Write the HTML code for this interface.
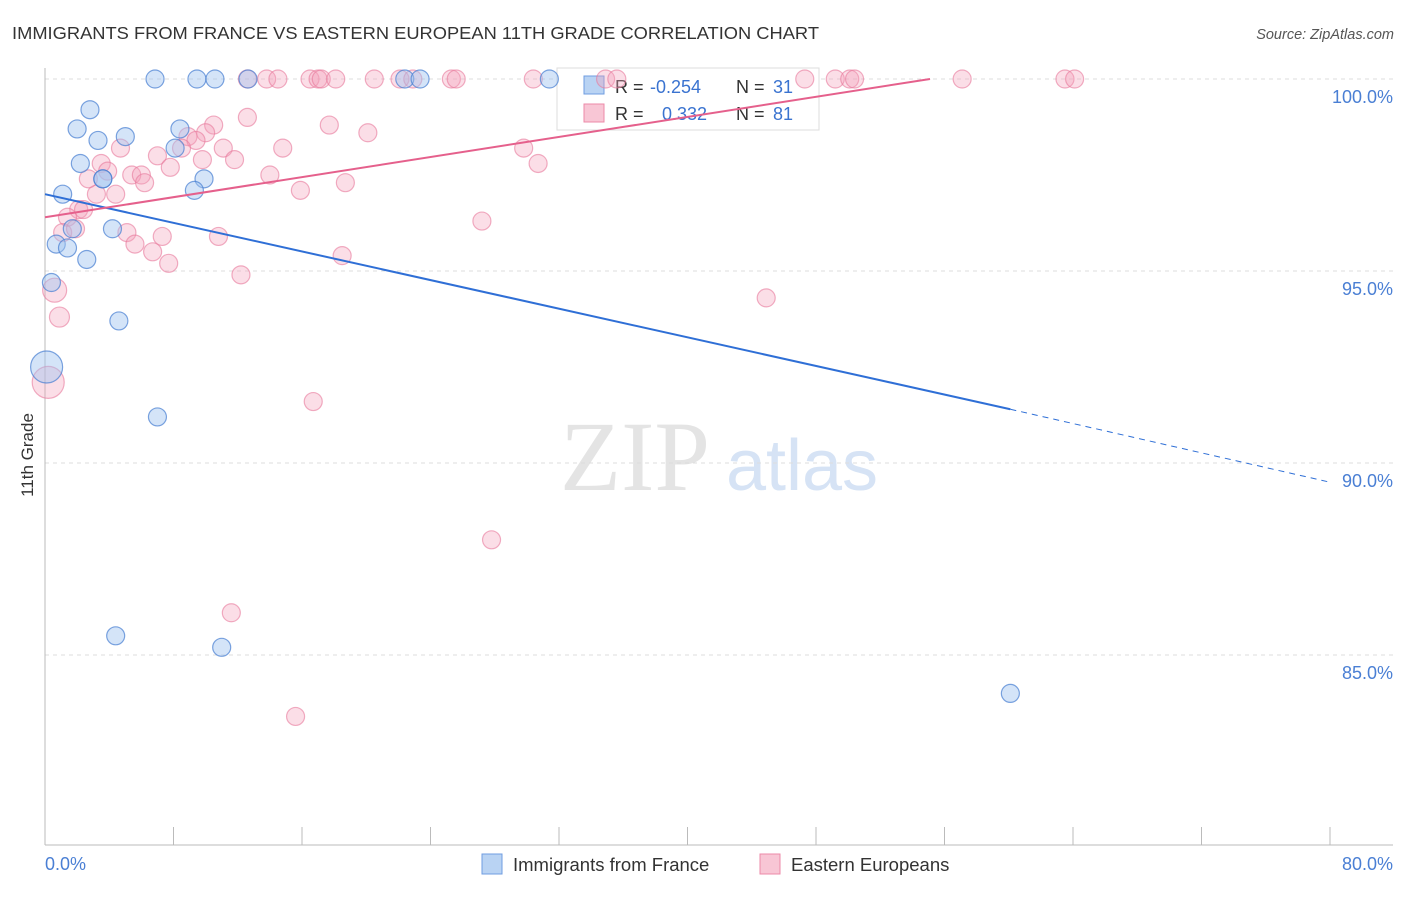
<!DOCTYPE html>
<html><head><meta charset="utf-8"><style>
body{margin:0;background:#fff;font-family:"Liberation Sans",sans-serif;}
</style></head><body>
<svg id="chart" width="1406" height="892" xmlns="http://www.w3.org/2000/svg" style="font-family:'Liberation Sans',sans-serif">
<text x="12" y="39" font-size="17.5" fill="#333" textLength="807" lengthAdjust="spacingAndGlyphs">IMMIGRANTS FROM FRANCE VS EASTERN EUROPEAN 11TH GRADE CORRELATION CHART</text>
<text x="1394" y="39" font-size="14.5" fill="#555" font-style="italic" text-anchor="end">Source: ZipAtlas.com</text>
<text x="635" y="490" font-size="100" fill="#e4e4e4" style="font-family:'Liberation Serif',serif" text-anchor="middle">ZIP</text>
<text x="802" y="490" font-size="72" fill="#d6e3f5" text-anchor="middle">atlas</text>
<g id="grid"></g><g id="axes"></g>
<g>
<rect x="557" y="68" width="262" height="62" fill="#fff" stroke="#ddd"/>
<rect x="584" y="76" width="20" height="18" fill="#b9d3f3" stroke="#6f9de0"/>
<text x="615" y="93" font-size="18" fill="#333">R =</text>
<text x="650" y="93" font-size="18" fill="#3a73d0">-0.254</text>
<text x="736" y="93" font-size="18" fill="#333">N =</text>
<text x="773" y="93" font-size="18" fill="#3a73d0">31</text>
<rect x="584" y="104" width="20" height="18" fill="#f8c6d5" stroke="#ec8aa8"/>
<text x="615" y="120" font-size="18" fill="#333">R =</text>
<text x="662" y="120" font-size="18" fill="#3a73d0">0.332</text>
<text x="736" y="120" font-size="18" fill="#333">N =</text>
<text x="773" y="120" font-size="18" fill="#3a73d0">81</text>
</g>
<g id="pts"></g><g id="lines"></g>
<text x="33" y="455" font-size="17" fill="#333" text-anchor="middle" transform="rotate(-90 33 455)">11th Grade</text>
<text x="45" y="870" font-size="18" fill="#4a7fd4">0.0%</text>
<text x="1393" y="870" font-size="18" fill="#4a7fd4" text-anchor="end">80.0%</text>
<g>
<rect x="482" y="854" width="20" height="20" fill="#b9d3f3" stroke="#6f9de0"/>
<text x="513" y="871" font-size="18.5" fill="#333">Immigrants from France</text>
<rect x="760" y="854" width="20" height="20" fill="#f8c6d5" stroke="#ec8aa8"/>
<text x="791" y="871" font-size="18.5" fill="#333">Eastern Europeans</text>
</g>
</svg>
<script>
const yTicks=[100,95,90,85];
const xTicks=[0,8,16,24,32,40,48,56,64,72,80];
const blueX=[6.85,9.46,10.58,12.64,22.4,23.35,31.4,2.8,2.0,3.3,5.0,8.4,2.2,8.1,3.6,9.9,9.3,1.1,1.7,4.2,0.7,1.4,2.6,0.4,0.1,4.6,7.0,4.4,11.0,60.1,3.6];
const blueY=[100,100,100,100,100,100,100,99.2,98.7,98.4,98.5,98.7,97.8,98.2,97.4,97.4,97.1,97.0,96.1,96.1,95.7,95.6,95.3,94.7,92.5,93.7,91.2,85.5,85.2,84.0,97.4];
const blueR=[9,9,9,9,9,9,9,9,9,9,9,9,9,9,9,9,9,9,9,9,9,9,9,9,16,9,9,9,9,9,9];
const pinkX=[12.6,13.8,14.5,16.5,17.0,17.2,18.1,20.5,22.1,25.3,25.6,30.4,34.9,35.6,47.3,49.2,50.1,50.4,57.1,63.5,64.1,22.9,12.6,17.7,20.1,10.5,10.0,8.9,9.4,8.5,7.0,4.7,3.5,3.9,5.4,6.0,6.2,7.8,9.8,11.1,11.8,14.8,14.0,15.9,18.7,29.8,30.7,4.4,3.2,2.7,2.1,2.4,1.4,1.1,1.9,5.1,5.6,6.7,7.3,7.7,10.8,12.2,18.5,27.2,44.9,0.6,0.9,0.2,16.7,27.8,11.6,15.6];
const pinkY=[100,100,100,100,100,100,100,100,100,100,100,100,100,100,100,100,100,100,100,100,100,100,99.0,98.8,98.6,98.8,98.6,98.5,98.4,98.2,98.0,98.2,97.8,97.6,97.5,97.5,97.3,97.7,97.9,98.2,97.9,98.2,97.5,97.1,97.3,98.2,97.8,97.0,97.0,97.4,96.6,96.6,96.4,96.0,96.1,96.0,95.7,95.5,95.9,95.2,95.9,94.9,95.4,96.3,94.3,94.5,93.8,92.1,91.6,88.0,86.1,83.4];
const pinkR=[9,9,9,9,9,9,9,9,9,9,9,9,9,9,9,9,9,9,9,9,9,9,9,9,9,9,9,9,9,9,9,9,9,9,9,9,9,9,9,9,9,9,9,9,9,9,9,9,9,9,9,9,9,9,9,9,9,9,9,9,9,9,9,9,9,12,10,16,9,9,9,9];
const blueLine=[[0,97.0],[60.1,91.4]], blueDash=[[60.1,91.4],[80,89.5]];
const pinkLine=[[0,96.4],[55.1,100]];
const X0=45,X1=1330,Y0=79,PPY=38.4;
const sx=v=>X0+(v/80)*(X1-X0), sy=v=>Y0+(100-v)*PPY;
const NS="http://www.w3.org/2000/svg";
function mk(tag,attrs,parent){const e=document.createElementNS(NS,tag);for(const k in attrs)e.setAttribute(k,attrs[k]);parent.appendChild(e);return e;}
const grid=document.getElementById('grid'),axes=document.getElementById('axes'),pts=document.getElementById('pts'),lines=document.getElementById('lines');
yTicks.forEach(t=>{
 const l=mk('line',{x1:X0,x2:1393,y1:sy(t),y2:sy(t),stroke:'#ddd','stroke-dasharray':'4 4'},grid);
 
 
 const tx=mk('text',{x:1393,y:sy(t)+24,'font-size':18,fill:'#4a7fd4','text-anchor':'end'},grid);
 tx.textContent=t.toFixed(1)+'%';
 
 
});
const ya=mk('line',{x1:X0,x2:X0,y1:68,y2:845,stroke:'#bbb'},axes);


const xa=mk('line',{x1:X0,x2:1393,y1:845,y2:845,stroke:'#bbb'},axes);


xTicks.forEach(t=>{
 const l=mk('line',{x1:sx(t),x2:sx(t),y1:827,y2:845,stroke:'#bbb'},axes);
 
 
});
pinkX.forEach((v,i)=>{
 const c=mk('circle',{cx:sx(v),cy:sy(pinkY[i]),r:pinkR[i],fill:'rgba(244,160,185,0.35)',stroke:'rgba(232,120,155,0.6)','stroke-width':1.2},pts);
 
 
});
blueX.forEach((v,i)=>{
 const c=mk('circle',{cx:sx(v),cy:sy(blueY[i]),r:blueR[i],fill:'rgba(160,195,240,0.45)',stroke:'rgba(70,125,210,0.7)','stroke-width':1.2},pts);
 
 
});
const bl=mk('line',{x1:sx(blueLine[0][0]),y1:sy(blueLine[0][1]),x2:sx(blueLine[1][0]),y2:sy(blueLine[1][1]),stroke:'#2f6fd6','stroke-width':2},lines);


const bd=mk('line',{x1:sx(blueDash[0][0]),y1:sy(blueDash[0][1]),x2:sx(blueDash[1][0]),y2:sy(blueDash[1][1]),stroke:'#2f6fd6','stroke-width':1,'stroke-dasharray':'6 5'},lines);


const pl=mk('line',{x1:sx(pinkLine[0][0]),y1:sy(pinkLine[0][1]),x2:sx(pinkLine[1][0]),y2:sy(pinkLine[1][1]),stroke:'#e5608c','stroke-width':2},lines);


</script>
</body></html>
